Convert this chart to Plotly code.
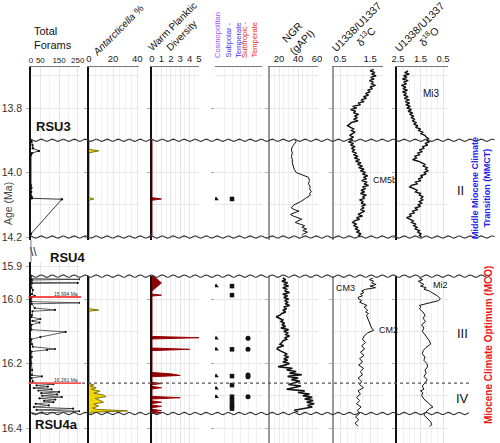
import plotly.graph_objects as go
import numpy as np

# ------------------------------------------------------------------ data
# Total forams (count)
FORAMS_TOP_AGE = [13.900, 13.905, 13.915, 13.925, 13.933, 13.940, 13.946, 14.040, 14.048, 14.060, 14.075, 14.080, 14.083, 14.190]
FORAMS_TOP_VAL = [0, 3, 8, 10, 42, 5, 0, 0, 2, 1, 3, 5, 165, 0]
FORAMS_BOT_AGE = [15.929, 15.937, 15.939, 15.941, 15.948, 15.950, 15.952, 15.965, 15.972, 15.985, 15.990, 15.995,
                  16.008, 16.012, 16.015, 16.028, 16.034, 16.038, 16.050, 16.056, 16.062, 16.068, 16.073, 16.080,
                  16.095, 16.102, 16.118, 16.125, 16.140, 16.148, 16.155, 16.158, 16.163, 16.180, 16.200, 16.220,
                  16.236, 16.240, 16.245, 16.255, 16.260, 16.264, 16.268, 16.272, 16.276, 16.280, 16.284, 16.288,
                  16.292, 16.296, 16.300, 16.304, 16.308, 16.312, 16.316, 16.320, 16.325, 16.330, 16.335, 16.340,
                  16.344, 16.348, 16.352, 16.355]
FORAMS_BOT_VAL = [0, 0, 262, 5, 3, 250, 4, 2, 10, 5, 20, 3,
                  2, 262, 4, 20, 128, 8, 5, 2, 50, 8, 45, 3,
                  2, 185, 50, 2, 5, 10, 128, 85, 3, 4, 2, 6,
                  5, 58, 3, 10, 5, 120, 30, 90, 15, 110, 40, 150,
                  55, 140, 60, 165, 45, 130, 70, 120, 25, 95, 15, 225,
                  30, 260, 60, 10]

# Antarcticella %
ANT_TOP_AGE = [13.900, 13.928, 13.933, 13.939, 14.078, 14.082, 14.086, 14.200]
ANT_TOP_VAL = [0, 0, 8, 0, 0, 4, 0, 0]
ANT_BOT_AGE = [15.929, 16.030, 16.034, 16.038, 16.262, 16.266, 16.270, 16.275, 16.280, 16.286, 16.292, 16.298,
               16.303, 16.308, 16.314, 16.320, 16.326, 16.332, 16.338, 16.342, 16.347, 16.351, 16.355]
ANT_BOT_VAL = [0, 0, 8, 0, 0, 4, 1, 6, 2, 9, 4, 12,
               14, 5, 9, 12, 4, 8, 3, 6, 32, 3, 0]

# Warm planktic diversity
WARM_TOP_AGE = [13.900, 14.078, 14.082, 14.086, 14.200]
WARM_TOP_VAL = [0, 0, 1, 0, 0]
WARM_BOT_AGE = [15.929, 15.930, 15.950, 15.972, 15.975, 15.985, 15.988, 15.991, 16.116, 16.120, 16.124, 16.152,
                16.156, 16.160, 16.228, 16.232, 16.237, 16.241, 16.258, 16.262, 16.266, 16.271, 16.275, 16.279,
                16.302, 16.306, 16.310, 16.316, 16.320, 16.324, 16.329, 16.333, 16.337, 16.342, 16.346, 16.350,
                16.353, 16.355]
WARM_BOT_VAL = [0, 0.2, 1.0, 0.2, 0, 0, 1.0, 0, 0, 5, 0, 0,
                4, 0, 0, 2, 3, 0, 0, 1, 0, 0, 1, 0,
                0, 3, 0, 0, 1, 0, 0, 1, 0, 0, 1, 0,
                1, 0]

# Faunal groups (presence)
GROUPS = ["Cosmopolitan", "Subpolar - Temperate", "Subtropic - Temperate"]
COSMO_TOP = [14.082]
SUBPOLAR_TOP = [14.082]
SUBTROP_TOP = []
COSMO_BOT = [15.960, 16.122, 16.156, 16.239, 16.277, 16.303]
SUBPOLAR_BOT = [15.960, 15.988, 16.156, 16.239, 16.267, 16.303, 16.313, 16.324, 16.332, 16.340]
SUBTROP_BOT = [16.122, 16.156, 16.236, 16.241, 16.303]

# NGR (gAPI)
NGR_TOP_AGE = [13.900, 13.905, 13.912, 13.920, 13.930, 13.940, 13.950, 13.960, 13.970, 13.980, 13.990, 14.000,
               14.005, 14.010, 14.015, 14.025, 14.035, 14.045, 14.050, 14.060, 14.065, 14.070, 14.075, 14.080,
               14.090, 14.095, 14.100, 14.105, 14.110, 14.115, 14.120, 14.125, 14.130, 14.135, 14.140, 14.145,
               14.150, 14.155, 14.160, 14.165, 14.170, 14.175, 14.180, 14.185, 14.190, 14.195]
NGR_TOP_VAL = [37, 38, 36, 34, 33, 34, 33, 34, 34, 35, 36, 38,
               42, 47, 51, 52, 51, 53, 52, 54, 52, 53, 51, 48,
               43, 39, 36, 34, 33, 36, 41, 36, 32, 35, 40, 44,
               40, 37, 42, 47, 44, 49, 45, 50, 46, 44]
NGR_BOT_AGE = [15.935, 15.940, 15.945, 15.950, 15.955, 15.960, 15.965, 15.970, 15.975, 15.980, 15.985, 15.990,
               15.995, 16.000, 16.005, 16.010, 16.015, 16.020, 16.025, 16.030, 16.035, 16.040, 16.045, 16.050,
               16.055, 16.060, 16.065, 16.070, 16.075, 16.080, 16.085, 16.090, 16.095, 16.100, 16.105, 16.110,
               16.115, 16.120, 16.125, 16.130, 16.135, 16.140, 16.145, 16.150, 16.155, 16.160, 16.165, 16.170,
               16.175, 16.180, 16.185, 16.190, 16.195, 16.200, 16.205, 16.210, 16.215, 16.220, 16.225, 16.230,
               16.235, 16.240, 16.245, 16.250, 16.255, 16.260, 16.265, 16.270, 16.275, 16.280, 16.285, 16.290,
               16.295, 16.300, 16.305, 16.310, 16.315, 16.320, 16.325, 16.330, 16.335, 16.340, 16.345, 16.350]
NGR_BOT_VAL = [24, 27, 23, 29, 25, 30, 24, 28, 26, 31, 24, 29,
               25, 30, 26, 29, 27, 31, 25, 28, 24, 27, 23, 21,
               17, 20, 24, 22, 26, 23, 27, 22, 30, 25, 29, 27,
               31, 26, 28, 24, 23, 21, 25, 19, 18, 21, 24, 28,
               26, 30, 25, 29, 24, 31, 26, 19, 34, 28, 38, 31,
               44, 29, 40, 33, 42, 36, 30, 43, 35, 28, 47, 40,
               52, 45, 55, 47, 56, 49, 57, 50, 55, 44, 36, 40]

# U1338/U1337 d13C
C13_TOP_AGE = [13.680, 13.685, 13.690, 13.695, 13.700, 13.705, 13.710, 13.715, 13.720, 13.725, 13.730, 13.735,
               13.740, 13.745, 13.750, 13.755, 13.760, 13.765, 13.770, 13.775, 13.780, 13.785, 13.790, 13.795,
               13.800, 13.805, 13.810, 13.815, 13.820, 13.825, 13.830, 13.835, 13.840, 13.845, 13.850, 13.855,
               13.860, 13.865, 13.870, 13.875, 13.880, 13.885, 13.890, 13.895, 13.900, 13.905, 13.910, 13.915,
               13.920, 13.925, 13.930, 13.935, 13.940, 13.945, 13.950, 13.955, 13.960, 13.965, 13.970, 13.975,
               13.980, 13.985, 13.990, 13.995, 14.000, 14.005, 14.010, 14.015, 14.020, 14.025, 14.030, 14.035,
               14.040, 14.045, 14.050, 14.055, 14.060, 14.065, 14.070, 14.075, 14.080, 14.085, 14.090, 14.095,
               14.100, 14.105, 14.110, 14.115, 14.120, 14.125, 14.130, 14.135, 14.140, 14.145, 14.150, 14.155,
               14.160, 14.165, 14.170, 14.175, 14.180, 14.185, 14.190, 14.195, 14.200]
C13_TOP_VAL = [1.62, 1.50, 1.66, 1.55, 1.70, 1.52, 1.63, 1.48, 1.60, 1.55, 1.68, 1.50,
               1.58, 1.42, 1.50, 1.35, 1.45, 1.28, 1.38, 1.20, 1.30, 1.10, 1.18, 0.92,
               1.05, 0.85, 1.02, 0.95, 1.12, 0.98, 1.08, 0.95, 1.10, 0.88, 0.82, 0.75,
               0.85, 0.95, 0.88, 1.00, 0.90, 0.82, 0.95, 0.85, 0.92, 0.78, 0.95, 0.85,
               1.00, 0.88, 0.98, 0.90, 1.05, 0.95, 1.10, 0.98, 1.15, 1.02, 1.20, 1.08,
               1.25, 1.12, 1.30, 1.18, 1.35, 1.25, 1.42, 1.28, 1.38, 1.22, 1.40, 1.30,
               1.45, 1.25, 1.35, 1.20, 1.32, 1.18, 1.38, 1.25, 1.32, 1.15, 1.28, 1.20,
               1.35, 1.22, 1.30, 1.18, 1.32, 1.20, 1.10, 1.25, 1.05, 1.15, 0.98, 0.92,
               1.05, 0.95, 1.10, 1.00, 1.15, 1.05, 1.20, 1.12, 1.18]
C13_BOT_AGE = [15.935, 15.940, 15.945, 15.950, 15.955, 15.960, 15.965, 15.970, 15.975, 15.980, 15.985, 15.990,
               15.995, 16.000, 16.005, 16.010, 16.015, 16.020, 16.025, 16.030, 16.035, 16.040, 16.045, 16.050,
               16.060, 16.070, 16.080, 16.090, 16.097, 16.105, 16.115, 16.125, 16.135, 16.145, 16.155, 16.165,
               16.175, 16.185, 16.195, 16.205, 16.215, 16.225, 16.235, 16.245, 16.255, 16.265, 16.275, 16.285,
               16.295, 16.305, 16.315, 16.325, 16.335, 16.345, 16.355, 16.365, 16.375, 16.385, 16.395]
C13_BOT_VAL = [1.60, 1.48, 1.62, 1.55, 1.70, 1.50, 1.68, 1.35, 1.22, 1.30, 1.18, 1.25,
               1.10, 1.12, 1.22, 1.15, 1.28, 1.40, 1.30, 1.35, 1.42, 1.35, 1.45, 1.38,
               1.42, 1.45, 1.50, 1.55, 1.62, 1.42, 1.30, 1.25, 1.35, 1.22, 1.32, 1.18,
               1.30, 1.15, 1.25, 1.12, 1.28, 1.18, 1.25, 1.10, 1.22, 1.15, 1.28, 1.10,
               1.18, 1.05, 1.15, 1.05, 1.20, 1.08, 1.15, 1.02, 1.12, 1.00, 1.10]

# U1338/U1337 d18O
O18_TOP_AGE = [13.685, 13.690, 13.695, 13.700, 13.705, 13.710, 13.715, 13.720, 13.725, 13.730, 13.735, 13.740,
               13.745, 13.750, 13.755, 13.760, 13.765, 13.770, 13.775, 13.780, 13.785, 13.790, 13.795, 13.800,
               13.805, 13.810, 13.815, 13.820, 13.825, 13.830, 13.835, 13.840, 13.845, 13.850, 13.855, 13.860,
               13.865, 13.870, 13.875, 13.880, 13.885, 13.890, 13.895, 13.900, 13.905, 13.910, 13.915, 13.920,
               13.925, 13.930, 13.935, 13.940, 13.945, 13.950, 13.955, 13.960, 13.965, 13.970, 13.975, 13.980,
               13.985, 13.990, 13.995, 14.000, 14.005, 14.010, 14.015, 14.020, 14.025, 14.030, 14.035, 14.040,
               14.045, 14.050, 14.055, 14.060, 14.065, 14.070, 14.075, 14.080, 14.085, 14.090, 14.095, 14.100,
               14.105, 14.110, 14.115, 14.120, 14.125, 14.130, 14.135, 14.140, 14.145, 14.150, 14.155, 14.160,
               14.165, 14.170, 14.175, 14.180, 14.185, 14.190, 14.195, 14.200]
O18_TOP_VAL = [2.05, 2.20, 2.00, 2.25, 2.10, 2.30, 2.05, 2.25, 2.12, 2.35, 2.15, 2.28,
               2.08, 2.30, 2.12, 2.25, 2.05, 2.22, 2.00, 2.18, 1.98, 2.15, 1.95, 2.10,
               1.90, 2.05, 1.85, 1.98, 1.80, 1.92, 1.75, 1.85, 1.70, 1.80, 1.62, 1.72,
               1.50, 1.58, 1.40, 1.48, 1.30, 1.25, 1.15, 1.22, 1.10, 1.30, 1.18, 1.40,
               1.35, 1.55, 1.42, 1.62, 1.55, 1.75, 1.68, 1.85, 1.60, 1.45, 1.30, 1.38,
               1.20, 1.28, 1.15, 1.35, 1.25, 1.50, 1.40, 1.60, 1.48, 1.72, 1.65, 1.90,
               1.98, 1.80, 1.65, 1.72, 1.50, 1.55, 1.38, 1.48, 1.40, 1.55, 1.45, 1.60,
               1.50, 1.75, 1.62, 1.85, 1.78, 2.00, 1.90, 2.12, 1.95, 1.82, 1.90, 1.70,
               1.80, 1.65, 1.75, 1.55, 1.62, 1.48, 1.55, 1.45]
O18_BOT_AGE = [15.935, 15.940, 15.945, 15.950, 15.955, 15.960, 15.965, 15.970, 15.975, 15.980, 15.985, 15.990,
               15.995, 16.000, 16.005, 16.010, 16.015, 16.020, 16.025, 16.030, 16.040, 16.050, 16.060, 16.070,
               16.080, 16.090, 16.100, 16.110, 16.120, 16.130, 16.140, 16.150, 16.160, 16.170, 16.180, 16.190,
               16.200, 16.210, 16.220, 16.230, 16.240, 16.250, 16.260, 16.270, 16.280, 16.285, 16.290, 16.300,
               16.310, 16.320, 16.330, 16.335, 16.340, 16.350, 16.360, 16.370, 16.380, 16.390, 16.395]
O18_BOT_VAL = [1.55, 1.40, 1.60, 1.45, 1.35, 1.50, 1.25, 1.35, 1.10, 1.00, 0.85, 0.75,
               0.68, 0.62, 0.70, 0.95, 1.30, 1.55, 1.48, 1.55, 1.40, 1.30, 1.38, 1.28,
               1.45, 1.35, 1.42, 1.30, 1.20, 1.10, 1.05, 1.25, 1.38, 1.42, 1.30, 1.35,
               1.22, 1.18, 1.30, 1.25, 1.35, 1.20, 1.30, 1.42, 1.35, 1.50, 1.40, 1.45,
               1.35, 1.20, 1.05, 0.95, 1.10, 1.25, 1.35, 1.20, 1.05, 1.00, 1.10]

# axis tick labels
X_TICKS = [[0, 50, 150, 250], [0, 20, 40], [0, 1, 2, 3, 4, 5], [], [20, 40, 60], [0.5, 1.5], [2.5, 1.5, 0.5]]
Y_TICKS_TOP = [13.8, 14.0, 14.2]
Y_TICKS_BOT = [15.9, 16.0, 16.2, 16.4]
EVENT_AGES = [15.994, 16.261]
UNCONFORMITIES_TOP = [13.900, 14.200]
UNCONFORMITIES_BOT = [15.929, 16.355]

# ------------------------------------------------------------------ layout helpers
W, H = 500, 443
FONT = "Arial, Liberation Sans, sans-serif"
PX_PER_MA = 322.5
COLS = [(31, 80), (89, 139), (152, 199), (215, 262), (270, 318), (334, 383), (397, 448)]
TOP_PX = (67, 240)
BOT1_PX = (262, 443)
BOT_PX = (276, 443)
X_RANGES = [[0, 262], [0, 41.5], [0, 5], [-0.0625, 2.875], [10.5, 61], [0.3, 1.93], [2.544, 0.278]]
X_MINOR = [50, 5, 0.5, 0.5, 5, 0.25, 0.25]
X_TICKFONT = [8, 9.5, 9.5, 9.5, 9.5, 9.5, 9.5]
GRID = "#e6e6e6"
GRID2 = "#f1f1f1"
LEFTLINE = ["#111", "#111", "#111", None, "#999", "#999", "#111"]


def age_top(p):
    return 13.8 + (p - 108) / PX_PER_MA


def age_bot(p):
    return 16.0 + (p - 299) / PX_PER_MA


def px_x(p):
    return p / W


def px_y(p):
    return 1 - p / H


def axn(n, letter):
    return letter if n == 1 else f"{letter}{n}"


def sub(i, row):
    n = i + 1 + 7 * row
    return axn(n, "x"), axn(n, "y")


fig = go.Figure()

# ------------------------------------------------------------------ traces
def add(i, row, **kw):
    xa, ya = sub(i, row)
    kw.setdefault("showlegend", False)
    kw.setdefault("hoverinfo", "skip")
    fig.add_trace(go.Scatter(xaxis=xa, yaxis=ya, **kw))


# Total forams
add(0, 0, x=FORAMS_TOP_VAL, y=FORAMS_TOP_AGE, mode="lines+markers",
    line=dict(color="#222", width=0.9), marker=dict(size=2.4, color="#111"))
add(0, 1, x=FORAMS_BOT_VAL, y=FORAMS_BOT_AGE, mode="lines+markers",
    line=dict(color="#333", width=0.8), marker=dict(size=2.2, color="#111"))

# Antarcticella
for row, (a, v) in enumerate([(ANT_TOP_AGE, ANT_TOP_VAL), (ANT_BOT_AGE, ANT_BOT_VAL)]):
    add(1, row, x=v, y=a, mode="lines", fill="tozerox", fillcolor="#f2d400",
        line=dict(color="#6e6a00", width=0.9))

# Warm planktic diversity
for row, (a, v) in enumerate([(WARM_TOP_AGE, WARM_TOP_VAL), (WARM_BOT_AGE, WARM_BOT_VAL)]):
    add(2, row, x=v, y=a, mode="lines", fill="tozerox", fillcolor="#8b0000",
        line=dict(color="#9b0000", width=1))

# Faunal groups
SYMBOLS = ["triangle-up", "square", "circle"]
SIZES = [5, 4.5, 5]
for row, sets in enumerate([(COSMO_TOP, SUBPOLAR_TOP, SUBTROP_TOP), (COSMO_BOT, SUBPOLAR_BOT, SUBTROP_BOT)]):
    for k, ages in enumerate(sets):
        if ages:
            add(3, row, x=[k] * len(ages), y=ages, mode="markers",
                marker=dict(symbol=SYMBOLS[k], size=SIZES[k], color="#111"), name=GROUPS[k])

# NGR
add(4, 0, x=NGR_TOP_VAL, y=NGR_TOP_AGE, mode="lines", line=dict(color="#111", width=1))
add(4, 1, x=NGR_BOT_VAL, y=NGR_BOT_AGE, mode="lines", line=dict(color="#111", width=1.6))

# d13C
add(5, 0, x=C13_TOP_VAL, y=C13_TOP_AGE, mode="lines", line=dict(color="#111", width=1.4))
add(5, 1, x=C13_BOT_VAL, y=C13_BOT_AGE, mode="lines", line=dict(color="#111", width=1))

# d18O
add(6, 0, x=O18_TOP_VAL, y=O18_TOP_AGE, mode="lines", line=dict(color="#111", width=1.4))
add(6, 1, x=O18_BOT_VAL, y=O18_BOT_AGE, mode="lines", line=dict(color="#111", width=1))

# ------------------------------------------------------------------ axes
layout = {}
for row in (0, 1):
    for i in range(7):
        n = i + 1 + 7 * row
        xk = "xaxis" if n == 1 else f"xaxis{n}"
        yk = "yaxis" if n == 1 else f"yaxis{n}"
        xa = dict(domain=[px_x(COLS[i][0]), px_x(COLS[i][1])], range=X_RANGES[i], anchor=axn(n, "y"),
                  automargin=False, showgrid=True, gridcolor=GRID, gridwidth=1, zeroline=False, fixedrange=True,
                  tickmode="array", tickvals=X_TICKS[i], ticks="", tickangle=0,
                  minor=dict(dtick=X_MINOR[i], showgrid=True, gridcolor=GRID2, ticks=""))
        if row == 0:
            xa.update(side="top", showticklabels=True,
                      tickfont=dict(size=X_TICKFONT[i], color="#222", family=FONT),
                      showline=True, linecolor="#777", linewidth=1)
        else:
            xa.update(showticklabels=False, showline=False)
        if row == 0:
            pr = TOP_PX
            rng = [age_top(pr[1]), age_top(pr[0])]
            yt = Y_TICKS_TOP
        else:
            pr = BOT1_PX if i == 0 else BOT_PX
            rng = [age_bot(pr[1]), age_bot(pr[0])]
            yt = Y_TICKS_BOT
        lc = LEFTLINE[i]
        ya = dict(domain=[px_y(pr[1]), px_y(pr[0])], range=rng, anchor=axn(n, "x"),
                  automargin=False, showgrid=True, gridcolor=GRID, zeroline=False, fixedrange=True,
                  tickmode="array", tickvals=yt, ticktext=[f"{t:.1f}" for t in yt],
                  minor=dict(dtick=0.1, tick0=yt[0], showgrid=True, gridcolor=GRID, ticks=""),
                  showline=lc is not None, linecolor=lc or "#000", linewidth=1.6,
                  ticks="outside", ticklen=3, tickcolor="#aaa", ticklabelstandoff=2,
                  showticklabels=(i == 0), tickfont=dict(size=10.5, color="#333", family=FONT))
        layout[xk] = xa
        layout[yk] = ya

# ------------------------------------------------------------------ decorations
shapes = []


def wavy(age, p0, p1, yref):
    xs = np.arange(p0, p1 + 0.5, 1.5)
    ys = age + 0.0035 * np.sin(2 * np.pi * xs / 11.0)
    path = "M " + " L ".join(f"{px_x(x):.5f},{y:.5f}" for x, y in zip(xs, ys))
    return dict(type="path", path=path, xref="paper", yref=yref, line=dict(color="#333", width=1.1))


shapes.append(wavy(UNCONFORMITIES_TOP[0], 31, 495, "y"))
shapes.append(wavy(UNCONFORMITIES_TOP[1], 31, 495, "y"))
shapes.append(wavy(UNCONFORMITIES_BOT[0], 31, 490, "y8"))
shapes.append(wavy(UNCONFORMITIES_BOT[1], 31, 470, "y8"))

# axis break connector
shapes.append(dict(type="line", xref="paper", yref="paper", x0=px_x(31), x1=px_x(31),
                   y0=px_y(240), y1=px_y(262), line=dict(color="#aaa", width=1.6)))

# event lines
shapes.append(dict(type="line", xref="x8 domain", yref="y8", x0=-0.05, x1=1.02,
                   y0=EVENT_AGES[0], y1=EVENT_AGES[0], line=dict(color="#ff1010", width=1.6)))
shapes.append(dict(type="line", xref="x8 domain", yref="y8", x0=-0.05, x1=1.02,
                   y0=EVENT_AGES[1], y1=EVENT_AGES[1], line=dict(color="#f25050", width=1.8)))
shapes.append(dict(type="line", xref="paper", yref="y8", x0=px_x(82), x1=px_x(472),
                   y0=EVENT_AGES[1], y1=EVENT_AGES[1], line=dict(color="#555", width=1.3, dash="dot")))

ann = []


def text(t, x, y, size=11, color="#111", angle=0, xanchor="center", yanchor="middle", align="center", bold=False):
    if bold:
        t = f"<b>{t}</b>"
    ann.append(dict(text=t, x=px_x(x), y=px_y(y), xref="paper", yref="paper", showarrow=False,
                    font=dict(size=size, color=color, family=FONT), textangle=angle,
                    xanchor=xanchor, yanchor=yanchor, align=align))


# column titles
text("Total<br>Forams", 32, 38, size=11, xanchor="left", align="left")
text("<i>Antarcticella</i> %", 118, 31, size=10, angle=-45)
text("Warm Planktic<br>Diversity", 177, 31, size=10, angle=-45)
text(GROUPS[0], 217, 35, size=7.5, color="#a24cf5", angle=-90)
text("Subpolar -<br>Temperate", 234, 40, size=7.5, color="#3535f0", angle=-90)
text("Subtropic -<br>Temperate", 250, 40, size=7.5, color="#f02a2a", angle=-90)
text("NGR<br>(gAPI)", 297, 37, size=10.5, angle=-45)
text("U1338/U1337<br>δ<sup>13</sup>C", 361, 32, size=10.5, angle=-45)
text("U1338/U1337<br>δ<sup>18</sup>O", 424, 32, size=10.5, angle=-45)

# y label
text("Age (Ma)", 8, 204, size=10.5, color="#444", angle=-90)

# unit labels
text("RSU3", 34, 127, size=13, bold=True, xanchor="left")
text("RSU4", 48, 257, size=13, bold=True, xanchor="left")
text("RSU4a", 33, 424, size=13, bold=True, xanchor="left")
text("\\\\", 33, 252, size=12, color="#333")

# event labels
text("15.994 Ma", 66, 294, size=5, color="#333")
text("16.261 Ma", 66, 380, size=5, color="#333")

# isotope event labels
text("Mi3", 421, 94, size=10, xanchor="left")
text("CM5b", 371, 180, size=9, xanchor="left")
text("CM3", 357, 288, size=9, xanchor="right")
text("CM2", 377, 330, size=9, xanchor="left")
text("Mi2", 431, 285, size=9, xanchor="left")

# intervals
text("II", 460, 190, size=13)
text("III", 462, 333, size=13)
text("IV", 462, 398, size=13)
text("Middle Miocene Climate<br>Transition (MMCT)", 481, 188, size=9, color="#2424e8", angle=-90, bold=True)
text("Miocene Climate Optimum (MCO)", 488, 345, size=10, color="#ee1515", angle=-90, bold=True)

fig.update_layout(
    width=W, height=H, margin=dict(l=0, r=0, t=0, b=0, autoexpand=False),
    paper_bgcolor="white", plot_bgcolor="white",
    font=dict(family=FONT, size=11, color="#111"),
    shapes=shapes, annotations=ann, showlegend=False,
    **layout,
)

# the page's default body margin would offset the 500x443 figure; remove it
fig.write_html("out.html", config=dict(displayModeBar=False),
               post_script="document.body.style.margin='0';document.body.style.overflow='hidden';")
